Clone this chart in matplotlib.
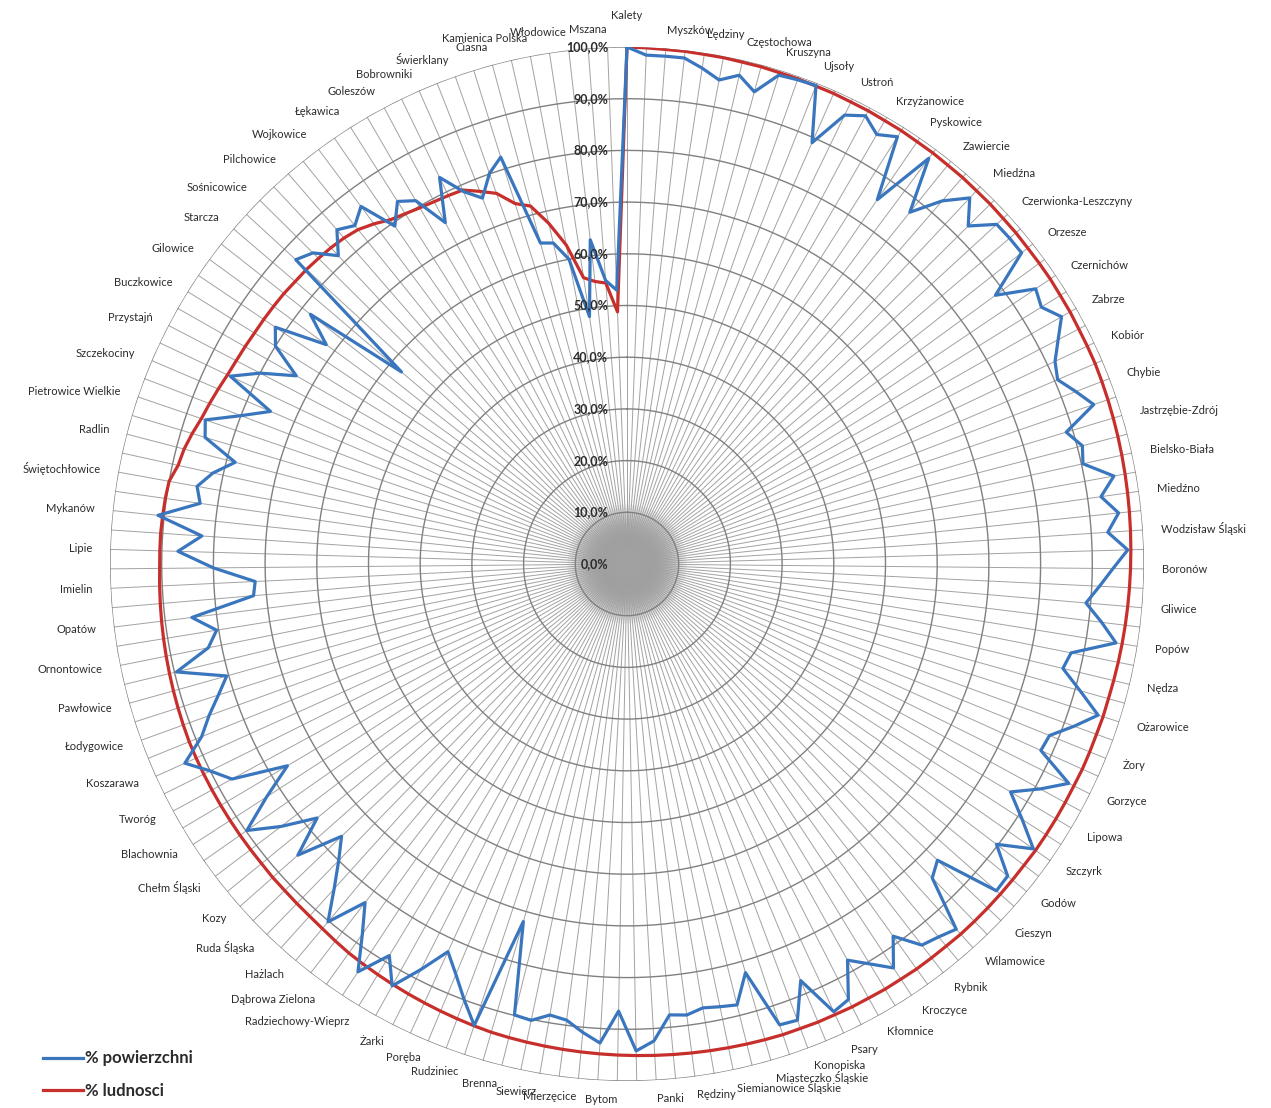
import numpy as np
import matplotlib
matplotlib.use("Agg")
import matplotlib.pyplot as plt
from matplotlib.transforms import offset_copy

# Gminy podpisane na osi (co druga kategoria)
etykiety = [
    "Kalety", "Myszków", "Lędziny", "Częstochowa", "Kruszyna", "Ujsoły", "Ustroń",
    "Krzyżanowice", "Pyskowice", "Zawiercie", "Miedźna", "Czerwionka-Leszczyny",
    "Orzesze", "Czernichów", "Zabrze", "Kobiór", "Chybie", "Jastrzębie-Zdrój",
    "Bielsko-Biała", "Miedźno", "Wodzisław Śląski", "Boronów", "Gliwice", "Popów",
    "Nędza", "Ożarowice", "Żory", "Gorzyce", "Lipowa", "Szczyrk", "Godów", "Cieszyn",
    "Wilamowice", "Rybnik", "Kroczyce", "Kłomnice", "Psary", "Konopiska",
    "Miasteczko Śląskie", "Siemianowice Śląskie", "Rędziny", "Panki", "Bytom",
    "Mierzęcice", "Siewierz", "Brenna", "Rudziniec", "Poręba", "Żarki",
    "Radziechowy-Wieprz", "Dąbrowa Zielona", "Hażlach", "Ruda Śląska", "Kozy",
    "Chełm Śląski", "Blachownia", "Tworóg", "Koszarawa", "Łodygowice", "Pawłowice",
    "Ornontowice", "Opatów", "Imielin", "Lipie", "Mykanów", "Świętochłowice", "Radlin",
    "Pietrowice Wielkie", "Szczekociny", "Przystajń", "Buczkowice", "Gilowice",
    "Starcza", "Sośnicowice", "Pilchowice", "Wojkowice", "Łękawica", "Goleszów",
    "Bobrowniki", "Świerklany", "Ciasna", "Kamienica Polska", "Włodowice", "Mszana",
]

# % powierzchni - kolejne gminy
powierzchnia = [
    1.000, 0.985, 0.985, 0.985, 0.970, 0.953, 0.970, 0.946, 0.990, 0.993,
    0.995, 0.890, 0.965, 0.982, 0.961, 0.978, 0.855, 0.978, 0.873, 0.930,
    0.970, 0.929, 0.971, 0.972, 0.972, 0.882, 0.953, 0.943, 0.967, 0.940,
    0.916, 0.906, 0.930, 0.954, 0.887, 0.910, 0.903, 0.957, 0.926, 0.956,
    0.932, 0.969, 0.940, 0.915, 0.891, 0.925, 0.958, 0.876, 0.867, 0.910,
    0.957, 0.920, 0.882, 0.878, 0.954, 0.910, 0.863, 0.910, 0.960, 0.897,
    0.952, 0.954, 0.830, 0.847, 0.951, 0.940, 0.932, 0.885, 0.936, 0.905,
    0.877, 0.945, 0.954, 0.873, 0.942, 0.939, 0.823, 0.879, 0.875, 0.871,
    0.880, 0.876, 0.924, 0.942, 0.865, 0.928, 0.910, 0.890, 0.885, 0.902,
    0.899, 0.720, 0.940, 0.900, 0.860, 0.826, 0.880, 0.934, 0.886, 0.945,
    0.880, 0.828, 0.902, 0.846, 0.800, 0.763, 0.850, 0.775, 0.840, 0.898,
    0.830, 0.764, 0.870, 0.900, 0.938, 0.888, 0.860, 0.830, 0.804, 0.896,
    0.826, 0.804, 0.848, 0.725, 0.720, 0.800, 0.869, 0.824, 0.912, 0.834,
    0.845, 0.820, 0.783, 0.852, 0.862, 0.800, 0.750, 0.849, 0.800, 0.736,
    0.800, 0.820, 0.720, 0.780, 0.573, 0.870, 0.855, 0.817, 0.856, 0.840,
    0.862, 0.793, 0.830, 0.813, 0.748, 0.831, 0.787, 0.761, 0.801, 0.824,
    0.643, 0.637, 0.600, 0.484, 0.631, 0.550, 0.530,
]

# % ludności - kolejne gminy
ludnosc = [
    1.000, 0.999, 0.998, 0.998, 0.997, 0.997, 0.996, 0.996, 0.995, 0.995,
    0.994, 0.994, 0.993, 0.993, 0.992, 0.992, 0.991, 0.991, 0.990, 0.990,
    0.989, 0.989, 0.988, 0.988, 0.987, 0.987, 0.987, 0.986, 0.986, 0.985,
    0.985, 0.985, 0.984, 0.983, 0.982, 0.981, 0.980, 0.979, 0.978, 0.977,
    0.976, 0.975, 0.974, 0.973, 0.972, 0.971, 0.970, 0.969, 0.968, 0.967,
    0.967, 0.966, 0.966, 0.966, 0.965, 0.965, 0.965, 0.965, 0.965, 0.964,
    0.964, 0.964, 0.964, 0.964, 0.964, 0.963, 0.963, 0.963, 0.962, 0.962,
    0.961, 0.961, 0.960, 0.960, 0.959, 0.959, 0.958, 0.957, 0.956, 0.955,
    0.954, 0.953, 0.952, 0.951, 0.950, 0.949, 0.948, 0.947, 0.946, 0.945,
    0.944, 0.943, 0.941, 0.939, 0.937, 0.935, 0.933, 0.931, 0.929, 0.927,
    0.925, 0.922, 0.919, 0.917, 0.916, 0.915, 0.915, 0.914, 0.914, 0.914,
    0.914, 0.914, 0.914, 0.914, 0.914, 0.914, 0.913, 0.912, 0.911, 0.910,
    0.909, 0.908, 0.907, 0.906, 0.905, 0.904, 0.904, 0.904, 0.903, 0.902,
    0.900, 0.889, 0.885, 0.878, 0.870, 0.865, 0.860, 0.855, 0.852, 0.850,
    0.848, 0.847, 0.846, 0.845, 0.843, 0.842, 0.840, 0.838, 0.835, 0.830,
    0.820, 0.808, 0.802, 0.797, 0.794, 0.792, 0.790, 0.775, 0.760, 0.730,
    0.717, 0.676, 0.628, 0.560, 0.550, 0.545, 0.488,
]

poziomy = [0.0, 0.1, 0.2, 0.3, 0.4, 0.5, 0.6, 0.7, 0.8, 0.9, 1.0]

NIEBIESKI = "#3a76bd"
CZERWONY = "#c62f2b"
TEKST = "#2b2b2b"

W, H = 1271, 1108
CX, CY, R = 627, 564, 517

fig = plt.figure(figsize=(W / 100, H / 100), dpi=100)
fig.patch.set_facecolor("white")
ax = fig.add_axes([(CX - R) / W, (H - CY - R) / H, 2 * R / W, 2 * R / H],
                  projection="polar")
ax.set_theta_zero_location("N")
ax.set_theta_direction(-1)
ax.set_ylim(0, 1)
ax.grid(False)
ax.set_xticks([])
ax.set_yticks([])
ax.spines["polar"].set_visible(False)
ax.set_facecolor("white")

n = len(powierzchnia)
kat = np.arange(n) * 2 * np.pi / n
obieg = np.linspace(0, 2 * np.pi, 721)

# szare zagęszczenie w środku, gdzie zbiegają się szprychy
for rr in np.linspace(0.115, 0.015, 16):
    ax.fill(obieg, np.full_like(obieg, rr), color="#707070", alpha=0.11,
            lw=0, zorder=0.5)

# szprychy dla każdej gminy
for t in kat:
    ax.plot([t, t], [0, 1], color="#a2a2a2", lw=0.7, zorder=1)

# okręgi siatki
for p in poziomy[1:]:
    ax.plot(obieg, np.full_like(obieg, p), color="#808080", lw=1.0, zorder=2)

# serie danych (zamknięte)
kz = np.append(kat, kat[0])
l1, = ax.plot(kz, np.append(powierzchnia, powierzchnia[0]), color=NIEBIESKI,
              lw=2.3, zorder=4, label="% powierzchni")
l2, = ax.plot(kz, np.append(ludnosc, ludnosc[0]), color=CZERWONY,
              lw=2.3, zorder=3, label="% ludnosci")

# opisy osi promieniowej
tr = offset_copy(ax.transData, fig=fig, x=-19, y=0, units="dots")
for p in poziomy:
    ax.text(0, p, f"{p * 100:.1f}%".replace(".", ","), transform=tr,
            ha="right", va="center", fontsize=9, fontweight="bold",
            family="Lato", color=TEKST, zorder=6)

# nazwy gmin
for i, nazwa in enumerate(etykiety):
    t = kat[2 * i]
    st = np.degrees(t)
    r_et = 1.035
    if st < 0.5:
        ha, va, r_et = "center", "bottom", 1.05
    elif abs(st - 180) < 0.5:
        ha, va = "center", "top"
    elif st < 180:
        ha, va = "left", "center"
    else:
        ha, va = "right", "center"
    ax.text(t, r_et, nazwa, ha=ha, va=va, fontsize=8, family="Lato",
            color=TEKST, clip_on=False)

fig.legend(handles=[l1, l2], loc="lower left",
           bbox_to_anchor=(28 / W, -6 / H), frameon=False,
           prop={"family": "Lato", "weight": "bold", "size": 12},
           handlelength=2.4, handletextpad=0.1, labelspacing=1.0,
           labelcolor=TEKST)

fig.savefig("out.png", dpi=100, facecolor="white")
